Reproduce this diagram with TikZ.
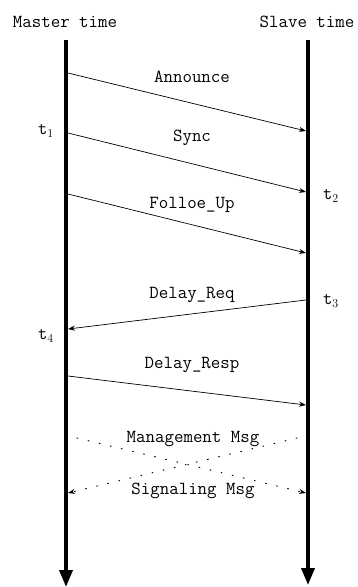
\documentclass[tikz,border=0pt]{standalone}
\usepackage{fontspec}
\usetikzlibrary{arrows.meta}
\begin{document}
\begin{tikzpicture}[x=1pt,y=1pt,
  lbl/.style={font=\fontsize{18.4}{20}\selectfont\ttfamily, inner sep=0pt},
  tl/.style={font=\fontsize{18}{20}\selectfont\ttfamily, inner sep=0pt},
  timeline/.style={line width=3.6pt, -{Triangle[length=17pt,width=13pt]}},
  msg/.style={line width=0.7pt, -{Stealth[length=7pt,width=5pt]}},
  dotmsg/.style={line width=1pt, dash pattern=on 0.9pt off 10.5pt, line cap=round, -{Stealth[length=7pt,width=5pt]}}]
\useasboundingbox (0,0) rectangle (357,-587);
% titles
\node[lbl] (mt) at (65,-22) {Master time};
\node[lbl] (st) at (307,-22) {Slave time};
% timelines
\coordinate (mtop) at (66,-40);
\coordinate (mbot) at (66,-587);
\coordinate (stop) at (308,-40);
\coordinate (sbot) at (308,-585);
\draw[timeline] (mtop) -- (mbot);
\draw[timeline] (stop) -- (sbot);
% endpoints
\coordinate (a1) at (68,-73);  \coordinate (a2) at (306,-131);
\coordinate (b1) at (68,-133); \coordinate (b2) at (306,-192);
\coordinate (c1) at (68,-194); \coordinate (c2) at (306,-253);
\coordinate (d1) at (306,-300); \coordinate (d2) at (68,-329);
\coordinate (e1) at (68,-376); \coordinate (e2) at (306,-405);
\coordinate (f1) at (77,-438); \coordinate (f2) at (306,-493);
\coordinate (g1) at (297,-438); \coordinate (g2) at (68,-493);
\draw[msg] (a1) -- (a2);
\draw[msg] (b1) -- (b2);
\draw[msg] (c1) -- (c2);
\draw[msg] (d1) -- (d2);
\draw[msg] (e1) -- (e2);
\draw[dotmsg] (f1) -- (f2);
\draw[dotmsg] (g1) -- (g2);
% labels
\node[lbl] (la) at (192,-77) {Announce};
\node[lbl] (lb) at (192,-138) {Sync};
\node[lbl] (lc) at (192,-205) {Folloe\_Up};
\node[lbl] (ld) at (192,-295) {Delay\_Req};
\node[lbl] (le) at (192,-365) {Delay\_Resp};
\node[lbl] (lf) at (193,-439) {Management Msg};
\node[lbl] (lg) at (193,-491) {Signaling Msg};
% times
\node[tl] (t1) at (46,-131) {t$_1$};
\node[tl] (t2) at (331,-196) {t$_2$};
\node[tl] (t3) at (331,-301) {t$_3$};
\node[tl] (t4) at (46,-336) {t$_4$};
\end{tikzpicture}
\end{document}
